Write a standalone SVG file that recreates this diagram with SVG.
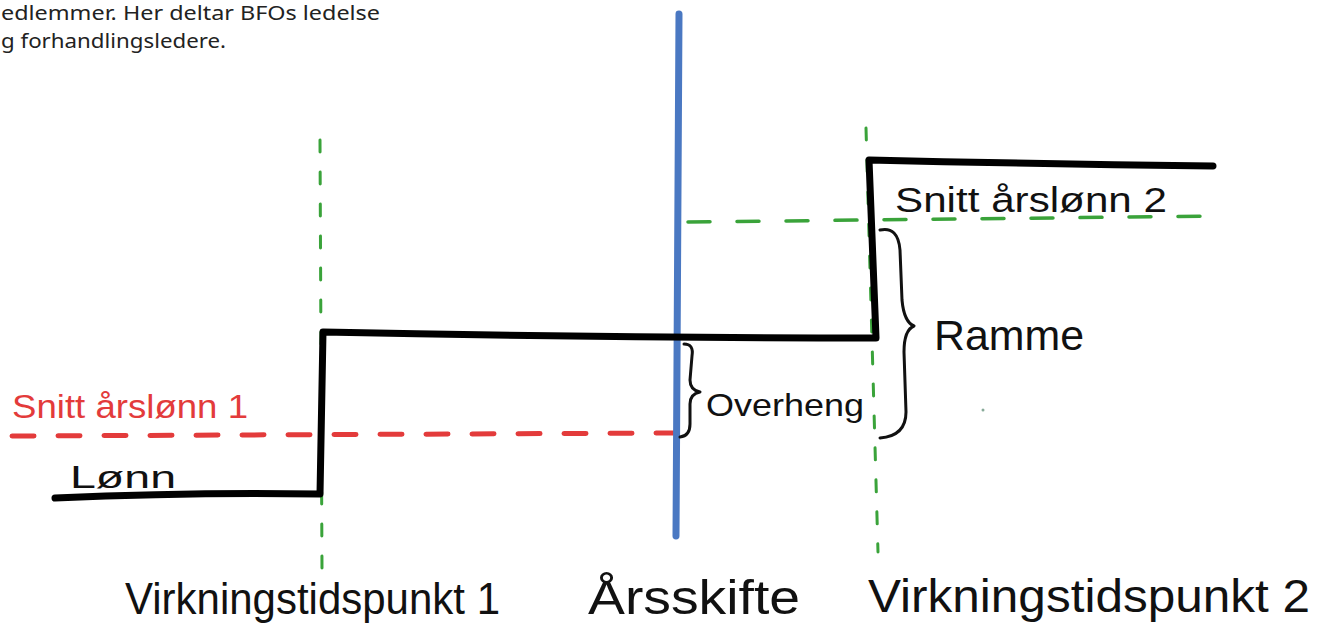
<svg xmlns="http://www.w3.org/2000/svg" width="1319" height="644" viewBox="0 0 1319 644">
<style>
.hand{font-family:"Liberation Sans","DejaVu Sans",sans-serif;fill:#111}
.intro{font-family:"Noto Sans","Liberation Sans",sans-serif;font-size:19px;fill:#222}
.gdash{fill:none;stroke:#3aa33a;stroke-width:3;stroke-dasharray:12 20;stroke-linecap:round}
.gdashh{fill:none;stroke:#3aa33a;stroke-width:3.5;stroke-dasharray:22 27;stroke-linecap:round}
.rdash{fill:none;stroke:#e33b3b;stroke-width:5;stroke-dasharray:22 24;stroke-linecap:round}
.step{fill:none;stroke:#000;stroke-width:7;stroke-linecap:round;stroke-linejoin:round}
.brace{fill:none;stroke:#111;stroke-width:3;stroke-linecap:round;stroke-linejoin:round}
</style>
<rect width="1319" height="644" fill="#fff"/>
<g id="intro">
<text class="intro" x="1" y="20" textLength="379" lengthAdjust="spacingAndGlyphs">edlemmer. Her deltar BFOs ledelse</text>
<text class="intro" x="1" y="48" textLength="225" lengthAdjust="spacingAndGlyphs">g forhandlingsledere.</text>
</g>
<g id="connectors">
<path class="gdash" d="M320 140 L322 570"/>
<path class="gdash" d="M866 128 L878 552"/>
<path class="gdashh" d="M688 222 L1225 216"/>
<path class="rdash" d="M12 436 L676 433"/>
<path d="M679 14 L676 536" stroke="#4a78c2" stroke-width="7" fill="none" stroke-linecap="round"/>
<path class="step" d="M55 498 Q190 492 320 494 L323 332 Q600 338 876 338 L869 160 Q1040 164 1213 166"/>
</g>
<g id="overheng">
<path class="brace" d="M684 344 Q694 344 692 356 L690 380 Q690 390 700 392 Q690 394 690 404 L690 424 Q690 436 680 437"/>
<text class="hand" x="706" y="416" font-size="32" textLength="158" lengthAdjust="spacingAndGlyphs">Overheng</text>
</g>
<g id="ramme">
<path class="brace" d="M880 230 Q898 226 900 250 L902 300 Q904 322 914 326 Q904 330 904 352 L906 412 Q906 436 880 438"/>
<text class="hand" x="934" y="350" font-size="42" textLength="150" lengthAdjust="spacingAndGlyphs">Ramme</text>
</g>
<g id="snitt1">
<text class="hand" x="12" y="418" font-size="34" style="fill:#e33b3b" textLength="236" lengthAdjust="spacingAndGlyphs">Snitt årslønn 1</text>
</g>
<g id="lonn">
<text class="hand" x="70" y="488" font-size="32" textLength="106" lengthAdjust="spacingAndGlyphs">Lønn</text>
</g>
<g id="snitt2">
<text class="hand" x="895" y="212" font-size="35" textLength="272" lengthAdjust="spacingAndGlyphs">Snitt årslønn 2</text>
</g>
<g id="vt1">
<text class="hand" x="125" y="614" font-size="44" textLength="375" lengthAdjust="spacingAndGlyphs">Virkningstidspunkt 1</text>
</g>
<g id="arsskifte">
<text class="hand" x="588" y="614" font-size="48" textLength="212" lengthAdjust="spacingAndGlyphs">Årsskifte</text>
</g>
<g id="vt2">
<text class="hand" x="868" y="612" font-size="46" textLength="442" lengthAdjust="spacingAndGlyphs">Virkningstidspunkt 2</text>
</g>
<circle cx="983" cy="410" r="1.5" fill="#8a9"/>
</svg>
